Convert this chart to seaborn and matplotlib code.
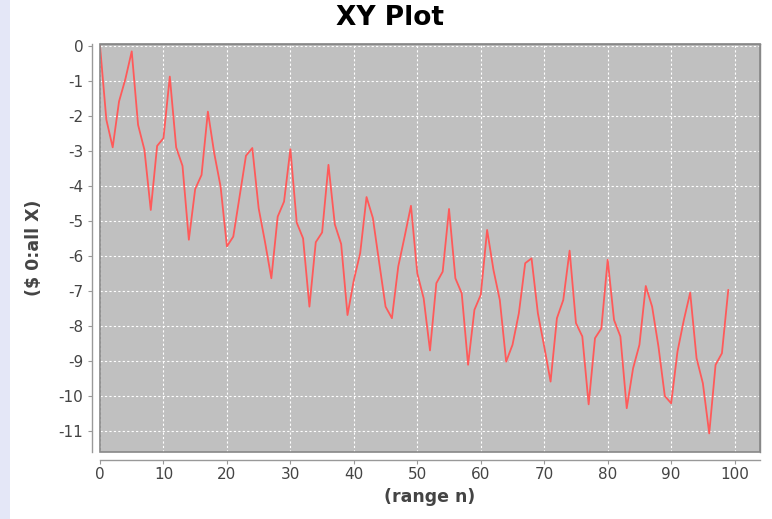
import matplotlib
matplotlib.use("Agg")
import matplotlib.pyplot as plt
import seaborn as sns
import pandas as pd
from matplotlib.patches import Rectangle

n_values = list(range(100))
y_values = [
    0.0, -2.11, -2.9, -1.59, -0.95, -0.16, -2.26, -2.97, -4.69, -2.86,
    -2.64, -0.88, -2.9, -3.43, -5.54, -4.09, -3.69, -1.88, -3.07, -4.02,
    -5.73, -5.45, -4.3, -3.14, -2.92, -4.64, -5.6, -6.64, -4.88, -4.45,
    -2.95, -5.05, -5.5, -7.45, -5.61, -5.33, -3.4, -5.1, -5.66, -7.69,
    -6.69, -5.92, -4.32, -4.92, -6.2, -7.45, -7.78, -6.3, -5.45, -4.57,
    -6.5, -7.21, -8.7, -6.78, -6.45, -4.66, -6.64, -7.07, -9.11, -7.54,
    -7.11, -5.26, -6.4, -7.26, -9.02, -8.54, -7.64, -6.21, -6.07, -7.64,
    -8.59, -9.59, -7.78, -7.26, -5.85, -7.92, -8.3, -10.24, -8.35, -8.07,
    -6.11, -7.83, -8.3, -10.35, -9.21, -8.54, -6.86, -7.45, -8.59, -10.0,
    -10.21, -8.73, -7.83, -7.05, -8.92, -9.64, -11.07, -9.11, -8.78, -6.97,
]
x_ticks = [0, 10, 20, 30, 40, 50, 60, 70, 80, 90, 100]
y_ticks = [0, -1, -2, -3, -4, -5, -6, -7, -8, -9, -10, -11]
title = "XY Plot"
x_label = "(range n)"
y_label = "($ 0:all X)"

df = pd.DataFrame({"n": n_values, "y": y_values})

sns.set_style("white")
plt.rcParams["font.family"] = ["DejaVu Sans"]
plt.rcParams["axes.unicode_minus"] = False

fig = plt.figure(figsize=(7.72, 5.19), dpi=100, facecolor="white")
fig.patches.append(Rectangle((0, 0), 10 / 772, 1, transform=fig.transFigure,
                             facecolor="#e4e7f7", edgecolor="none", zorder=0))

ax = fig.add_axes([100 / 772, 1 - 452 / 519, 660 / 772, 408 / 519])
ax.set_facecolor("#c0c0c0")

sns.lineplot(data=df, x="n", y="y", ax=ax, color="#ff5a5a", linewidth=1.3)

ax.set_xlim(0, 104)
ax.set_ylim(-11.6, 0.05)
ax.set_xticks(x_ticks)
ax.set_yticks(y_ticks)
ax.grid(True, color="white", linestyle=(0, (2, 2)), linewidth=0.8)

for side in ["top", "right"]:
    ax.spines[side].set_visible(True)
    ax.spines[side].set_color("#888888")
    ax.spines[side].set_linewidth(1.0)
for side in ["left", "bottom"]:
    ax.spines[side].set_position(("outward", 6))
    ax.spines[side].set_color("#999999")
    ax.spines[side].set_linewidth(1.0)

ax.add_patch(Rectangle((0, 0), 1, 1, transform=ax.transAxes, fill=False,
                       edgecolor="#888888", linewidth=1.2, zorder=5, clip_on=False))

ax.tick_params(axis="both", which="both", direction="out", length=3,
               color="#999999", labelsize=11, labelcolor="#444444",
               bottom=True, left=True)
ax.tick_params(axis="x", pad=2)
ax.tick_params(axis="y", pad=3)

ax.set_xlabel(x_label, fontsize=12.5, fontweight="bold", color="#444444", labelpad=4)
ax.set_ylabel(y_label, fontsize=12.5, fontweight="bold", color="#444444", labelpad=11)
fig.text(390 / 772, 1 - 18 / 519, title, fontsize=19, fontweight="bold",
         color="black", ha="center", va="center")

fig.savefig("out.png", dpi=100, facecolor="white")
